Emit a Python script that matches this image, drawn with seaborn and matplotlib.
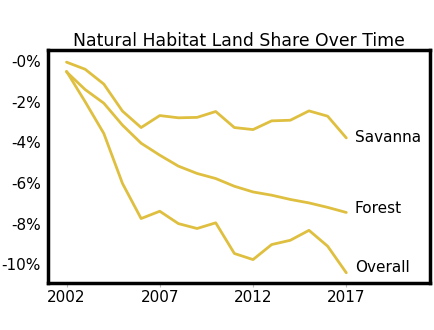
import matplotlib
matplotlib.use("Agg")
import matplotlib.pyplot as plt
import matplotlib.transforms as mtransforms
import seaborn as sns
import pandas as pd
from matplotlib.ticker import FuncFormatter

years = list(range(2002, 2018))
savanna = [-0.05, -0.40, -1.13, -2.46, -3.27, -2.68, -2.79, -2.77, -2.48, -3.27, -3.37, -2.94, -2.91, -2.45, -2.71, -3.78]
forest = [-0.53, -1.40, -2.07, -3.15, -4.04, -4.63, -5.17, -5.53, -5.78, -6.16, -6.44, -6.60, -6.81, -6.98, -7.20, -7.45]
overall = [-0.50, -2.00, -3.56, -6.02, -7.75, -7.39, -8.00, -8.24, -7.96, -9.47, -9.77, -9.03, -8.82, -8.33, -9.11, -10.42]
series_names = ["Savanna", "Forest", "Overall"]
title = "Natural Habitat Land Share Over Time"

df = pd.DataFrame({"year": years * 3,
                   "value": savanna + forest + overall,
                   "series": sum([[n] * len(years) for n in series_names], [])})

sns.set_style("white")
plt.rcParams['font.family'] = ['DejaVu Sans']
plt.rcParams['text.color'] = 'black'
plt.rcParams['xtick.color'] = 'black'
plt.rcParams['ytick.color'] = 'black'
color = "#dfbf3f"

fig = plt.figure(figsize=(4.35, 3.3), dpi=100)
ax = fig.add_axes([0.110, 0.142, 0.879, 0.706])
sns.lineplot(data=df, x="year", y="value", units="series", estimator=None,
             color=color, linewidth=2, ax=ax, legend=False)

label_shift = {"Savanna": 0, "Forest": 3, "Overall": 4}
for name, vals in zip(series_names, [savanna, forest, overall]):
    tr = mtransforms.offset_copy(ax.transData, fig=fig, x=0, y=label_shift[name], units="points")
    ax.text(years[-1] + 0.45, vals[-1], name, va="center", ha="left", fontsize=11,
            color="black", transform=tr)

ax.set_xlim(2001.0, 2021.5)
ax.set_ylim(-10.93, 0.54)
ax.set_xticks([2002, 2007, 2012, 2017])
ax.set_yticks([0, -2, -4, -6, -8, -10])
ax.yaxis.set_major_formatter(FuncFormatter(lambda v, p: "-%d%%" % abs(round(v))))
ax.set_xlabel("")
ax.set_ylabel("")
ax.set_title(title, fontsize=12.4, pad=3, color="black")
ax.tick_params(axis="both", labelsize=11, length=3, width=0.8, pad=2, labelcolor="black")
ax.tick_params(axis="x", bottom=True, color="#bbbbbb")
ax.tick_params(axis="y", left=False)
for s in ax.spines.values():
    s.set_color("black")
    s.set_linewidth(2.5)

fig.savefig("out.png", dpi=100)
